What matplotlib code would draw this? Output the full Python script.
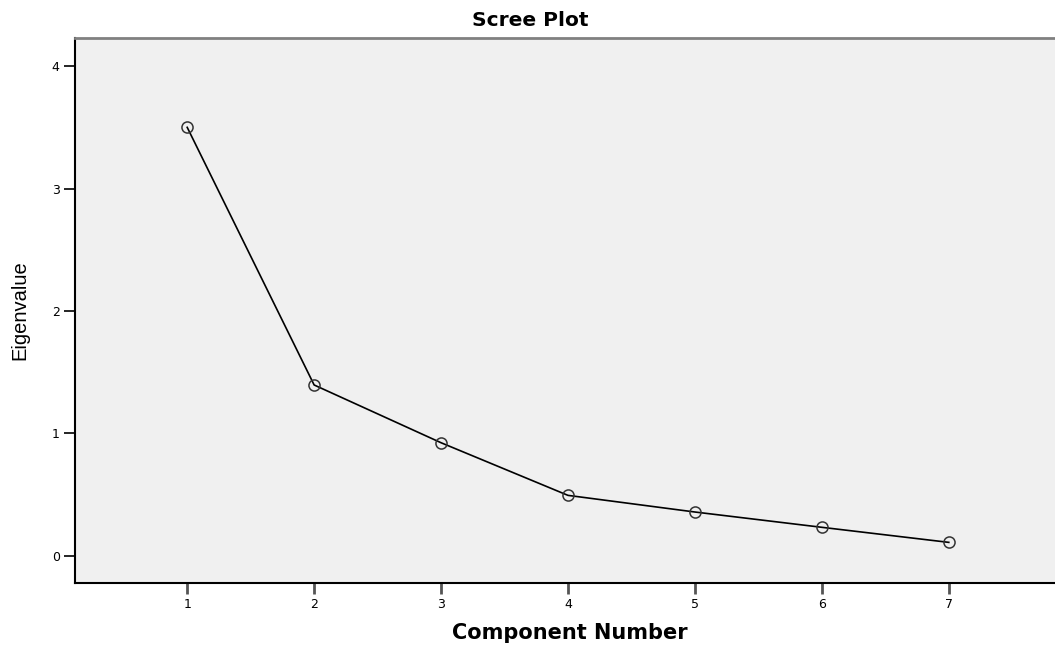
import matplotlib.pyplot as plt

componentes = [1, 2, 3, 4, 5, 6, 7]
eigenvalues = [3.50, 1.395, 0.923, 0.493, 0.357, 0.232, 0.109]
yticks = [0, 1, 2, 3, 4]

fig = plt.figure(figsize=(10.55, 6.46), dpi=100)
ax = fig.add_axes([75/1055, 63/646, 986/1055, 545/646])
ax.set_facecolor('#f0f0f0')

ax.plot(componentes, eigenvalues, color='black', lw=1.2, marker='o',
        markersize=8, mfc='none', mec='#333333', mew=1.1)

ax.set_xlim(0.116, 7.884)
ax.set_ylim(-0.223, 4.23)
ax.set_xticks(componentes)
ax.set_yticks(yticks)
ax.tick_params(axis='both', labelsize=9, length=8, width=1.2, colors='black',
               pad=3, direction='out')
ax.tick_params(axis='x', color='#555555', width=2)

for s in ['left', 'bottom']:
    ax.spines[s].set_color('black')
    ax.spines[s].set_linewidth(1.5)
ax.spines['top'].set_color('#808080')
ax.spines['top'].set_linewidth(2)
ax.spines['right'].set_visible(False)

fig.text(530/1055, 1 - 20/646, 'Scree Plot', ha='center', va='center',
         fontsize=14.5, fontweight='bold', family='DejaVu Sans')
fig.text(570/1055, 1 - 633/646, 'Component Number', ha='center', va='center',
         fontsize=15, fontweight='bold', family='DejaVu Sans')
fig.text(20/1055, 1 - 310/646, 'Eigenvalue', ha='center', va='center',
         rotation=90, fontsize=14.5, family='Liberation Sans')

plt.savefig('out.png', dpi=100)
